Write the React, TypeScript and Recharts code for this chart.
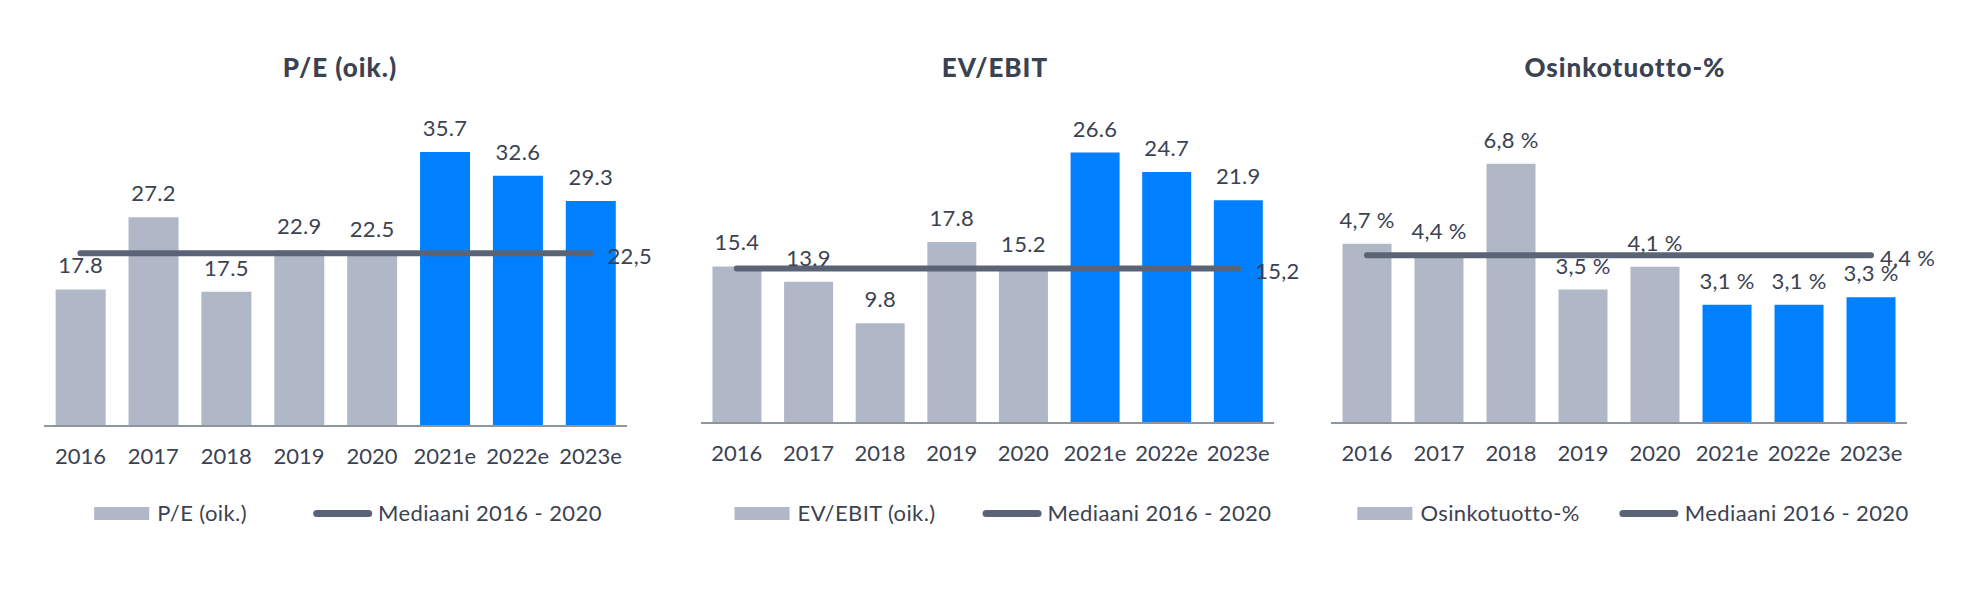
import React from "react";
import {
  ComposedChart,
  Bar,
  Line,
  Cell,
  XAxis,
  YAxis,
  LabelList,
} from "recharts";

const years = ["2016", "2017", "2018", "2019", "2020", "2021e", "2022e", "2023e"];
const peValues = [17.8, 27.2, 17.5, 22.9, 22.5, 35.7, 32.6, 29.3];
const evEbitValues = [15.4, 13.9, 9.8, 17.8, 15.2, 26.6, 24.7, 21.9];
const dividendValues = [4.7, 4.4, 6.8, 3.5, 4.1, 3.1, 3.1, 3.3];
const peMedian = 22.5;
const evEbitMedian = 15.2;
const dividendMedian = 4.4;
const medianName = "Mediaani 2016 - 2020";

const GRAY = "#b0b7c6";
const BLUE = "#0080ff";
const MEDIAN = "#5b6477";
const TEXT = "#3b4252";
const AXIS = "#8e959e";
const FONT = "Lato, sans-serif";

const dot = (v: number) => v.toFixed(1);
const comma = (v: number) => v.toFixed(1).replace(".", ",");
const pct = (v: number) => comma(v) + " %";

const buildRows = (values: number[], median: number) =>
  years.map((year, i) => ({ year, value: values[i], median }));

const panels = [
  {
    title: "P/E (oik.)",
    seriesName: "P/E (oik.)",
    rows: buildRows(peValues, peMedian),
    domain: [0, 40],
    barFormat: dot,
    medianFormat: comma,
    left: 0,
    margin: { top: 119, right: 33, bottom: 114, left: 44 },
    center: 340,
    legendGap: 66,
    medianDx: 17,
  },
  {
    title: "EV/EBIT",
    seriesName: "EV/EBIT (oik.)",
    rows: buildRows(evEbitValues, evEbitMedian),
    domain: [0, 30],
    barFormat: dot,
    medianFormat: comma,
    left: 660,
    margin: { top: 118, right: 46, bottom: 117, left: 41 },
    center: 995,
    legendGap: 47,
    medianDx: 17,
  },
  {
    title: "Osinkotuotto-%",
    seriesName: "Osinkotuotto-%",
    rows: buildRows(dividendValues, dividendMedian),
    domain: [0, 8],
    barFormat: pct,
    medianFormat: pct,
    left: 1320,
    margin: { top: 118, right: 73, bottom: 117, left: 11 },
    center: 1625,
    legendGap: 40,
    medianDx: 9,
  },
];

function Panel({ p }: { p: (typeof panels)[number] }) {
  const last = p.rows.length - 1;
  const medianLabel = (props: any) => {
    if (props.index !== last) return null;
    return (
      <text
        x={props.x + p.medianDx}
        y={props.y + 11}
        fill={TEXT}
        fontSize={22}
        fontFamily={FONT}
        letterSpacing={0.3}
      >
        {p.medianFormat(props.value)}
      </text>
    );
  };

  return (
    <>
      <div
        style={{
          position: "absolute",
          left: p.center,
          top: 50,
          transform: "translateX(-50%)",
          fontFamily: FONT,
          fontWeight: 900,
          fontSize: 26,
          lineHeight: "34px",
          color: TEXT,
          whiteSpace: "nowrap",
          letterSpacing: 1,
        }}
      >
        {p.title}
      </div>
      <div style={{ position: "absolute", left: p.left, top: 0 }}>
        <ComposedChart
          width={660}
          height={600}
          data={p.rows}
          margin={p.margin}
          barCategoryGap="16%"
        >
          <XAxis
            dataKey="year"
            axisLine={{ stroke: AXIS, strokeWidth: 2 }}
            tickLine={false}
            height={60}
            tickMargin={16}
            interval={0}
            tick={{ fill: TEXT, fontSize: 22, fontFamily: FONT }}
          />
          <YAxis hide domain={p.domain} />
          <Bar dataKey="value" isAnimationActive={false}>
            {p.rows.map((r) => (
              <Cell key={r.year} fill={r.year.endsWith("e") ? BLUE : GRAY} />
            ))}
            <LabelList
              dataKey="value"
              position="top"
              offset={16}
              formatter={(v: any) => p.barFormat(Number(v))}
              fill={TEXT}
              fontSize={22}
              fontFamily={FONT}
              letterSpacing={0.3}
            />
          </Bar>
          <Line
            dataKey="median"
            stroke={MEDIAN}
            strokeWidth={6}
            strokeLinecap="round"
            dot={false}
            activeDot={false}
            isAnimationActive={false}
          >
            <LabelList dataKey="median" content={medianLabel} />
          </Line>
        </ComposedChart>
      </div>
      <div
        style={{
          position: "absolute",
          left: p.center + 8,
          top: 499,
          transform: "translateX(-50%)",
          display: "flex",
          alignItems: "center",
          gap: p.legendGap,
          fontFamily: FONT,
          fontSize: 22,
          lineHeight: "28px",
          letterSpacing: 0.4,
          color: TEXT,
          whiteSpace: "nowrap",
        }}
      >
        <div style={{ display: "flex", alignItems: "center", gap: 8 }}>
          <div style={{ width: 55, height: 13, background: GRAY }} />
          <span>{p.seriesName}</span>
        </div>
        <div style={{ display: "flex", alignItems: "center", gap: 6 }}>
          <div
            style={{ width: 59, height: 7, borderRadius: 4, background: MEDIAN }}
          />
          <span>{medianName}</span>
        </div>
      </div>
    </>
  );
}

export default function App() {
  return (
    <div
      style={{
        position: "absolute",
        left: 0,
        top: 0,
        width: 1980,
        height: 600,
        background: "#fff",
        overflow: "hidden",
      }}
    >
      {panels.map((p) => (
        <Panel key={p.title} p={p} />
      ))}
    </div>
  );
}
